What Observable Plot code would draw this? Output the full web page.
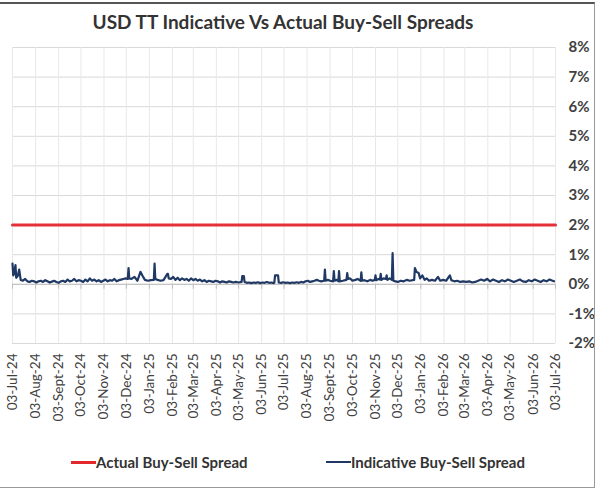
<!DOCTYPE html>
<html>
<head>
<meta charset="utf-8">
<script src="https://cdn.jsdelivr.net/npm/d3@7"></script>
<script src="https://cdn.jsdelivr.net/npm/@observablehq/plot@0.6"></script>
<style>
  html, body { margin: 0; padding: 0; background: #fff; }
  #wrap { position: relative; width: 600px; height: 499px; overflow: hidden; font-family: Lato, "Open Sans", sans-serif; }
  #frame { position: absolute; left: -2px; top: 2px; width: 597px; height: 486px; border-top: 2px solid #555; border-right: 1.5px solid #999; border-bottom: 1.5px solid #999; box-sizing: border-box; pointer-events: none; }
  #title { position: absolute; top: 10px; left: 11px; width: 544px; text-align: center; font-weight: bold; font-size: 19px; color: #333; white-space: nowrap; }
  .leg { position: absolute; top: 453px; font-weight: bold; font-size: 15px; color: #333; white-space: nowrap; display: flex; align-items: center; }
  .sw { display: inline-block; width: 25px; margin-right: 0px; }
</style>
</head>
<body>
<div id="wrap">
  <div id="chart"></div>
  <div id="title">USD TT Indicative Vs Actual Buy-Sell Spreads</div>
  <div class="leg" style="left:71px"><span class="sw" style="border-top:3px solid #e3282c"></span>Actual Buy-Sell Spread</div>
  <div class="leg" style="left:326px"><span class="sw" style="border-top:2px solid #1f3864"></span>Indicative Buy-Sell Spread</div>
  <div id="frame"></div>
</div>
<script>
// Indicative buy-sell spread (%)
const dates = [
"2024-07-03","2024-07-04","2024-07-05","2024-07-07","2024-07-08","2024-07-10","2024-07-12","2024-07-14","2024-07-17","2024-07-20",
"2024-07-23","2024-07-26","2024-07-29","2024-08-01","2024-08-04","2024-08-07","2024-08-10","2024-08-13","2024-08-16","2024-08-19",
"2024-08-22","2024-08-25","2024-08-28","2024-08-31","2024-09-03","2024-09-06","2024-09-09","2024-09-12","2024-09-15","2024-09-18",
"2024-09-21","2024-09-24","2024-09-27","2024-09-30","2024-10-03","2024-10-06","2024-10-09","2024-10-12","2024-10-15","2024-10-18",
"2024-10-21","2024-10-24","2024-10-27","2024-10-30","2024-11-02","2024-11-05","2024-11-08","2024-11-11","2024-11-14","2024-11-17",
"2024-11-20","2024-11-23","2024-11-26","2024-11-29","2024-12-02","2024-12-05","2024-12-06","2024-12-07","2024-12-10","2024-12-14",
"2024-12-18","2024-12-22","2024-12-25","2024-12-28","2025-01-01","2025-01-05","2025-01-09","2025-01-10","2025-01-11","2025-01-14",
"2025-01-18","2025-01-22","2025-01-27","2025-01-28","2025-01-29","2025-02-01","2025-02-04","2025-02-07","2025-02-10","2025-02-13",
"2025-02-16","2025-02-19","2025-02-22","2025-02-25","2025-02-28","2025-03-03","2025-03-06","2025-03-09","2025-03-12","2025-03-15",
"2025-03-18","2025-03-21","2025-03-24","2025-03-27","2025-03-30","2025-04-02","2025-04-05","2025-04-08","2025-04-11","2025-04-14",
"2025-04-17","2025-04-20","2025-04-23","2025-04-26","2025-04-29","2025-05-03","2025-05-07","2025-05-08","2025-05-10","2025-05-11",
"2025-05-14","2025-05-17","2025-05-20","2025-05-23","2025-05-26","2025-05-29","2025-06-01","2025-06-04","2025-06-07","2025-06-10",
"2025-06-13","2025-06-16","2025-06-19","2025-06-20","2025-06-21","2025-06-25","2025-06-26","2025-06-29","2025-07-02","2025-07-05",
"2025-07-08","2025-07-11","2025-07-14","2025-07-17","2025-07-20","2025-07-23","2025-07-26","2025-07-29","2025-08-01","2025-08-04",
"2025-08-07","2025-08-10","2025-08-13","2025-08-16","2025-08-19","2025-08-22","2025-08-26","2025-08-27","2025-08-28","2025-08-31",
"2025-09-03","2025-09-07","2025-09-08","2025-09-09","2025-09-12","2025-09-14","2025-09-15","2025-09-16","2025-09-20","2025-09-25",
"2025-09-26","2025-09-27","2025-09-30","2025-10-03","2025-10-07","2025-10-10","2025-10-14","2025-10-15","2025-10-16","2025-10-19",
"2025-10-23","2025-10-27","2025-10-30","2025-11-02","2025-11-03","2025-11-04","2025-11-07","2025-11-09","2025-11-10","2025-11-11",
"2025-11-14","2025-11-17","2025-11-18","2025-11-19","2025-11-22","2025-11-25","2025-11-26","2025-11-27","2025-11-30","2025-12-03",
"2025-12-07","2025-12-11","2025-12-15","2025-12-19","2025-12-25","2025-12-26","2025-12-28","2025-12-31","2026-01-02","2026-01-05",
"2026-01-08","2026-01-11","2026-01-14","2026-01-18","2026-01-22","2026-01-26","2026-01-29","2026-02-02","2026-02-06","2026-02-11",
"2026-02-13","2026-02-17","2026-02-21","2026-02-25","2026-03-01","2026-03-05","2026-03-09","2026-03-13","2026-03-17","2026-03-21",
"2026-03-25","2026-03-29","2026-04-02","2026-04-06","2026-04-10","2026-04-14","2026-04-18","2026-04-22","2026-04-26","2026-04-30",
"2026-05-04","2026-05-08","2026-05-12","2026-05-16","2026-05-20","2026-05-24","2026-05-28","2026-06-01","2026-06-05","2026-06-09",
"2026-06-13","2026-06-17","2026-06-21","2026-06-25","2026-06-29","2026-07-01"
];
const indicative = [
0.70,0.30,0.35,0.65,0.22,0.28,0.50,0.15,0.12,0.18,
0.10,0.08,0.12,0.10,0.06,0.10,0.12,0.08,0.14,0.10,
0.06,0.09,0.12,0.08,0.05,0.10,0.12,0.08,0.16,0.10,
0.12,0.18,0.10,0.14,0.12,0.08,0.16,0.10,0.20,0.12,
0.16,0.10,0.14,0.08,0.12,0.16,0.10,0.14,0.12,0.18,
0.10,0.14,0.16,0.18,0.20,0.18,0.55,0.20,0.18,0.25,
0.12,0.42,0.28,0.15,0.12,0.14,0.15,0.70,0.18,0.15,
0.12,0.14,0.35,0.35,0.20,0.18,0.25,0.15,0.22,0.14,
0.20,0.15,0.18,0.12,0.20,0.14,0.18,0.12,0.16,0.10,
0.14,0.08,0.12,0.10,0.08,0.12,0.10,0.06,0.10,0.08,
0.06,0.10,0.08,0.06,0.08,0.06,0.08,0.28,0.28,0.08,
0.05,0.06,0.04,0.06,0.05,0.07,0.04,0.06,0.05,0.08,
0.05,0.06,0.04,0.06,0.30,0.30,0.06,0.05,0.07,0.05,
0.06,0.04,0.06,0.05,0.07,0.05,0.08,0.06,0.10,0.12,
0.08,0.10,0.12,0.15,0.12,0.10,0.12,0.50,0.12,0.15,
0.12,0.10,0.45,0.12,0.15,0.10,0.45,0.10,0.12,0.15,
0.38,0.18,0.20,0.12,0.15,0.18,0.12,0.40,0.12,0.14,
0.10,0.15,0.12,0.15,0.30,0.14,0.18,0.16,0.35,0.15,
0.20,0.18,0.30,0.15,0.20,0.15,1.05,0.12,0.10,0.08,
0.12,0.10,0.15,0.12,0.15,0.55,0.42,0.38,0.20,0.30,
0.15,0.20,0.12,0.15,0.12,0.25,0.12,0.15,0.12,0.30,
0.14,0.10,0.12,0.08,0.10,0.08,0.10,0.06,0.08,0.12,
0.16,0.12,0.18,0.10,0.16,0.12,0.08,0.14,0.10,0.16,
0.12,0.08,0.12,0.16,0.10,0.08,0.14,0.10,0.16,0.12,
0.08,0.14,0.10,0.16,0.12,0.10
];
// Actual buy-sell spread (%)
const actualDates = ["2024-07-03", "2026-07-03"];
const actual = [2, 2];
// Axis ticks
const yTicks = [-2, -1, 0, 1, 2, 3, 4, 5, 6, 7, 8];
const tickDates = ["2024-07-03","2024-08-03","2024-09-03","2024-10-03","2024-11-03","2024-12-03","2025-01-03","2025-02-03","2025-03-03",
  "2025-04-03","2025-05-03","2025-06-03","2025-07-03","2025-08-03","2025-09-03","2025-10-03","2025-11-03","2025-12-03","2026-01-03",
  "2026-02-03","2026-03-03","2026-04-03","2026-05-03","2026-06-03","2026-07-03"];
const tickLabels = ["03-Jul-24","03-Aug-24","03-Sept-24","03-Oct-24","03-Nov-24","03-Dec-24","03-Jan-25","03-Feb-25","03-Mar-25",
  "03-Apr-25","03-May-25","03-Jun-25","03-Jul-25","03-Aug-25","03-Sept-25","03-Oct-25","03-Nov-25","03-Dec-25","03-Jan-26",
  "03-Feb-26","03-Mar-26","03-Apr-26","03-May-26","03-Jun-26","03-Jul-26"];

const parse = d3.utcParse("%Y-%m-%d");
const ind = dates.map((d, i) => ({date: parse(d), value: indicative[i]}));
const act = actualDates.map((d, i) => ({date: parse(d), value: actual[i]}));
const ticks = tickDates.map(parse);
const labelMap = new Map(ticks.map((t, i) => [+t, tickLabels[i]]));

const chart = Plot.plot({
  width: 600,
  height: 499,
  marginLeft: 12,
  marginRight: 45,
  marginTop: 47,
  marginBottom: 156,
  x: {type: "utc", domain: [ticks[0], ticks[ticks.length - 1]]},
  y: {domain: [-2, 8]},
  style: {fontFamily: "Lato, 'Open Sans', sans-serif", background: "transparent", overflow: "visible"},
  marks: [
    Plot.gridY(yTicks, {stroke: "#d9d9d9", strokeOpacity: 1}),
    Plot.gridX(ticks, {stroke: "#e8e8e8", strokeOpacity: 1}),
    Plot.ruleY([0], {stroke: "#bfbfbf"}),
    Plot.ruleX(ticks, {y1: 0, y2: -0.17, stroke: "#bfbfbf"}),
    Plot.lineY(act, {x: "date", y: "value", stroke: "#e5303a", strokeWidth: 3}),
    Plot.lineY(ind, {x: "date", y: "value", stroke: "#1f3864", strokeWidth: 2.2}),
    Plot.axisY(yTicks, {anchor: "right", tickSize: 0, tickPadding: 13, tickFormat: d => d + "%", fontSize: 15, fontWeight: "bold", fill: "#404040", label: null}),
    Plot.axisX(ticks, {anchor: "bottom", tickSize: 0, tickPadding: 10, tickRotate: -90, tickFormat: d => labelMap.get(+d), fontSize: 13.5, fill: "#404040", label: null})
  ]
});
document.getElementById("chart").appendChild(chart);
</script>
</body>
</html>
